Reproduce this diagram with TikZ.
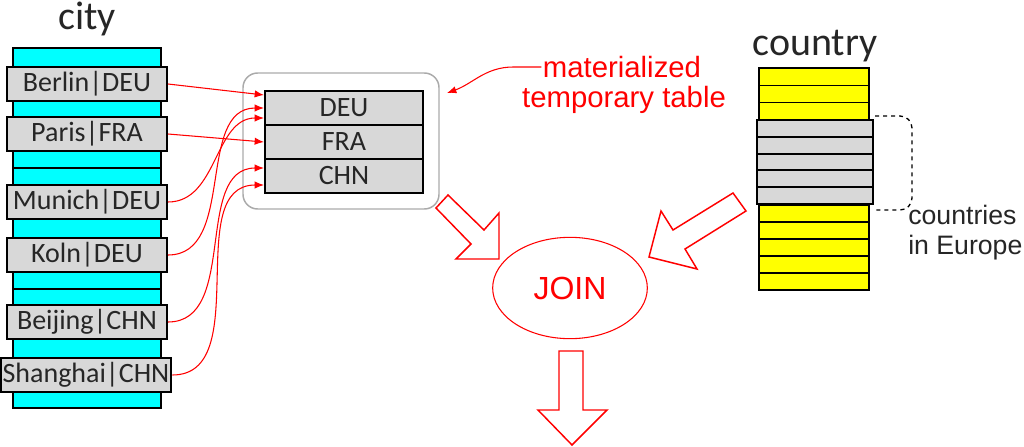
\documentclass[tikz,border=0pt]{standalone}
\usepackage{fontspec}
\setmainfont{Carlito}
\newfontfamily\notefont{Liberation Sans}
\usetikzlibrary{calc,arrows.meta,shapes.geometric}
\definecolor{boxgray}{RGB}{216,216,216}
\definecolor{textgray}{RGB}{38,38,38}
\definecolor{framegray}{RGB}{170,170,170}
\definecolor{citycyan}{RGB}{0,255,255}
\definecolor{countryyellow}{RGB}{255,255,0}

\begin{document}
\begin{tikzpicture}[x=0.75pt,y=-0.75pt]
  \tikzstyle{cell} = [draw=black, line width=1.5pt, fill=boxgray, text=textgray, font=\fontsize{21}{25}\selectfont, minimum height=25.5pt, inner xsep=1.5pt];
  \tikzstyle{city_cell} = [cell, minimum width=120pt];
  \tikzstyle{tmp_cell}  = [cell, minimum width=118.5pt];
  \tikzstyle{link}  = [red, line width=0.8pt, -{Latex[length=7pt,width=5.5pt]}];
  \tikzstyle{block} = [draw=red, line width=1.1pt, line join=miter];
  \tikzstyle{note}  = [text=red, font=\notefont\fontsize{22}{25}\selectfont, inner sep=1pt];
  \tikzstyle{title} = [text=textgray, font=\fontsize{30}{34}\selectfont, anchor=base, inner sep=0pt];

  \useasboundingbox (0,0) rectangle (1024,446);

  % city table
  \node[title] (citylabel) at (87,29) {city};
  \draw[fill=citycyan, line width=1.1pt] (13,48) rectangle (161,408);
  \draw[line width=1.1pt] (13,168) -- (161,168);
  \draw[line width=1.1pt] (13,289) -- (161,289);

  \node[city_cell] (berlin)   at (87,84)  {Berlin|DEU};
  \node[city_cell] (paris)    at (87,134) {Paris|FRA};
  \node[city_cell] (munich)   at (87,202) {Munich|DEU};
  \node[city_cell] (koln)     at (87,255) {Koln|DEU};
  \node[city_cell] (beijing)  at (87,322) {Beijing|CHN};
  \node[city_cell] (shanghai) at (86,375) {Shanghai|CHN};

  % temporary table
  \node[draw=framegray, line width=1.1pt, rounded corners=11pt, minimum width=147pt, minimum height=102pt] (tmp) at (341,141) {};
  \node[tmp_cell] (deu) at (344,108) {DEU};
  \node[tmp_cell] (fra) at (344,142) {FRA};
  \node[tmp_cell] (chn) at (344,176) {CHN};

  \draw[link] (berlin.east) -- ($(deu.west)+(0,-13)$);
  \draw[link] (paris.east) -- (fra.west);
  \draw[link] (munich.east) to[out=0, in=180] ($(deu.west)+(0,10)$);
  \draw[link] (koln.east) to[out=0, in=180] (deu.west);
  \draw[link] (beijing.east) to[out=0, in=180] ($(chn.west)+(0,-8)$);
  \draw[link] (shanghai.east) to[out=0, in=180] ($(chn.west)+(0,9)$);

  % note
  \node[note] (mat) at (622,67) {materialized};
  \node[note] (temp) at (624,100) {temporary table};
  \coordinate (tmptip) at (447,93);
  \draw[link] (mat.west) -- ++(-28,0) to[out=180, in=20] (tmptip);

  % country table
  \node[title] (countrylabel) at (815,55) {country};
  \foreach \i in {0,1,2}
    \draw[fill=countryyellow, line width=1.1pt] (759,68+17.33*\i) rectangle (869,85.33+17.33*\i);
  \foreach \i in {0,...,4}
    \draw[fill=countryyellow, line width=1.1pt] (759,205+17*\i) rectangle (869,222+17*\i);
  \foreach \i in {0,...,4}
    \draw[fill=boxgray, line width=1.5pt] (757,120+16.8*\i) rectangle (873,136.8+16.8*\i);

  \draw[dashed, line width=1pt, rounded corners=9pt] (875,116) -- (912,116) -- (912,210) -- (875,210);
  \node[anchor=west, align=left, text=textgray, font=\notefont\fontsize{20}{22.5}\selectfont, inner sep=0pt] (europe) at (908,233) {countries\\in Europe};

  % join
  \node[ellipse, draw=red, line width=0.8pt, minimum width=116pt, minimum height=76pt, text=red, font=\notefont\fontsize{24}{28}\selectfont] (join) at (570,288) {JOIN};

  \draw[block] (436,208) -- (448,195) -- (484,230) -- (499,213) -- (499,259) -- (456,259) -- (471,244) -- cycle;
  \draw[block] (733,193) -- (673,230) -- (661,211) -- (649,257) -- (697,269) -- (685,249) -- (746,211) -- cycle;
  \draw[block] (559,351) -- (583,351) -- (583,410) -- (607,410) -- (572,445) -- (538,410) -- (559,410) -- cycle;
\end{tikzpicture}
\end{document}
